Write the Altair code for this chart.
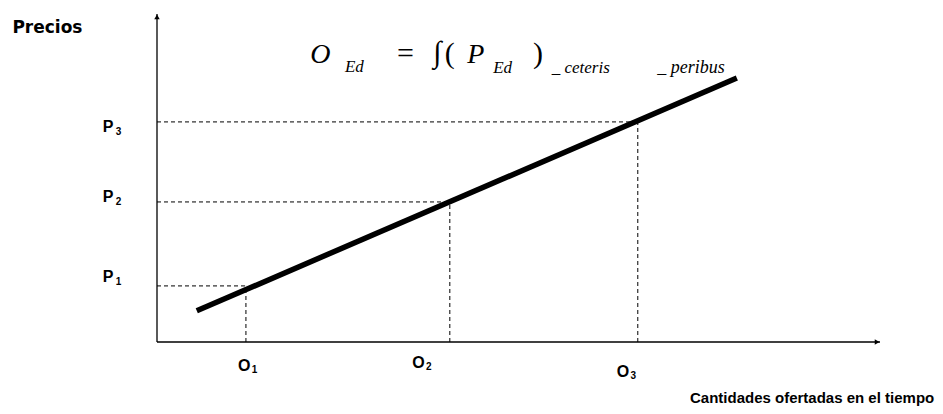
import altair as alt
import pandas as pd

# ---------------- data (quantity / price units, 0-100 axes) ----------------
q_marks = [12.3, 40.5, 66.5]          # O1, O2, O3
p_marks = [17.1, 42.7, 67.1]          # P1, P2, P3
supply_q = [5.5, 80.2]                # supply line end points (quantity)
supply_p = [9.5, 80.5]                # supply line end points (price)
axis_max = 100

# label text
p_main = ["P", "P", "P"]
p_sub = ["1", "2", "3"]
o_main = ["O", "O", "O"]
o_sub = ["1", "2", "3"]
y_title = "Precios"
x_title = "Cantidades ofertadas en el tiempo"

# label anchor positions (in axis units)
p_lab_x = [-7.5, -7.5, -7.5]
p_lab_y = [18.3, 42.7, 64.0]
p_sub_x = [-5.7, -5.7, -5.7]
p_sub_y = [17.3, 41.7, 63.0]
o_lab_x = [11.2, 35.3, 63.6]
o_lab_y = [-8.8, -7.9, -10.7]
o_sub_x = [13.1, 37.2, 65.5]
o_sub_y = [-9.4, -8.5, -11.3]

# formula pieces: text, x, y, size, style
f_text = ["O", "Ed", "=", "\u222b", "(", "P", "Ed", ")", "_ ceteris", "_ peribus"]
f_x = [21.2, 26.0, 33.2, 38.2, 39.8, 42.9, 46.5, 52.0, 54.6, 69.2]
f_y = [85.1, 82.3, 85.1, 85.3, 85.1, 85.1, 82.0, 85.1, 82.0, 82.0]
f_size = [28, 17, 30, 30, 30, 28, 17, 30, 17, 18]
f_style = ["italic", "italic", "normal", "normal", "normal", "italic", "italic",
           "normal", "italic", "italic"]

# ---------------- chart ----------------
xs = alt.Scale(domain=[0, axis_max], nice=False, zero=False)
ys = alt.Scale(domain=[0, axis_max], nice=False, zero=False)


def X(f="x"):
    return alt.X(f, type="quantitative", scale=xs, axis=None)


def Y(f="y"):
    return alt.Y(f, type="quantitative", scale=ys, axis=None)


guides = pd.DataFrame({"q": q_marks, "p": p_marks, "zero": [0, 0, 0]})

h_dash = alt.Chart(guides).mark_rule(color="black", strokeWidth=1, strokeDash=[4, 3]).encode(
    x=X("zero"), x2="q", y=Y("p"))
v_dash = alt.Chart(guides).mark_rule(color="black", strokeWidth=1, strokeDash=[4, 3]).encode(
    x=X("q"), y=Y("zero"), y2="p")

axes_df = pd.DataFrame({"x": [0, 0], "y": [0, 0], "x2": [0, axis_max], "y2": [axis_max, 0]})
axes = alt.Chart(axes_df).mark_rule(color="black", strokeWidth=1.3).encode(
    x=X("x"), x2="x2", y=Y("y"), y2="y2")

arrow_up = alt.Chart(pd.DataFrame({"x": [0], "y": [axis_max - 0.9]})).mark_point(
    shape="triangle-up", filled=True, color="black", size=30, opacity=1).encode(x=X(), y=Y())
arrow_right = alt.Chart(pd.DataFrame({"x": [axis_max - 0.4], "y": [0]})).mark_point(
    shape="triangle-right", filled=True, color="black", size=30, opacity=1).encode(x=X(), y=Y())

supply = alt.Chart(pd.DataFrame({"x": supply_q, "y": supply_p})).mark_line(
    color="black", strokeWidth=5.5, strokeCap="butt").encode(x=X(), y=Y())


def text_layer(texts, xv, yv, size, font="Liberation Sans", weight="bold",
               style="normal", align="left"):
    df = pd.DataFrame({"t": texts, "x": xv, "y": yv})
    return alt.Chart(df).mark_text(
        font=font, fontSize=size, fontWeight=weight, fontStyle=style,
        align=align, baseline="alphabetic", color="black").encode(
        x=X(), y=Y(), text="t:N")


p_labels = text_layer(p_main, p_lab_x, p_lab_y, 16)
p_subs = text_layer(p_sub, p_sub_x, p_sub_y, 10)
o_labels = text_layer(o_main, o_lab_x, o_lab_y, 16)
o_subs = text_layer(o_sub, o_sub_x, o_sub_y, 10)
ytitle = text_layer([y_title], [-20.0], [94.2], 17, font="DejaVu Sans")
xtitle = text_layer([x_title], [107.5], [-18.6], 15, align="right")

fdf = pd.DataFrame({"t": f_text, "x": f_x, "y": f_y, "s": f_size, "st": f_style})
formula_layers = []
for st in ["italic", "normal"]:
    sub = fdf[fdf["st"] == st]
    formula_layers.append(
        alt.Chart(sub).mark_text(font="Liberation Serif", fontStyle=st, align="left",
                                 baseline="alphabetic", color="black").encode(
            x=X(), y=Y(), text="t:N",
            size=alt.Size("s:Q", scale=None, legend=None)))

chart = alt.layer(
    h_dash, v_dash, axes, arrow_up, arrow_right, supply,
    p_labels, p_subs, o_labels, o_subs, ytitle, xtitle, *formula_layers
).properties(
    width=723, height=328,
    padding={"left": 149, "top": 6, "right": 55, "bottom": 64},
    autosize=alt.AutoSizeParams(type="none"),
    background="white",
).configure_view(stroke=None)

chart.save("out.html", embed_options={"renderer": "svg", "actions": False})
